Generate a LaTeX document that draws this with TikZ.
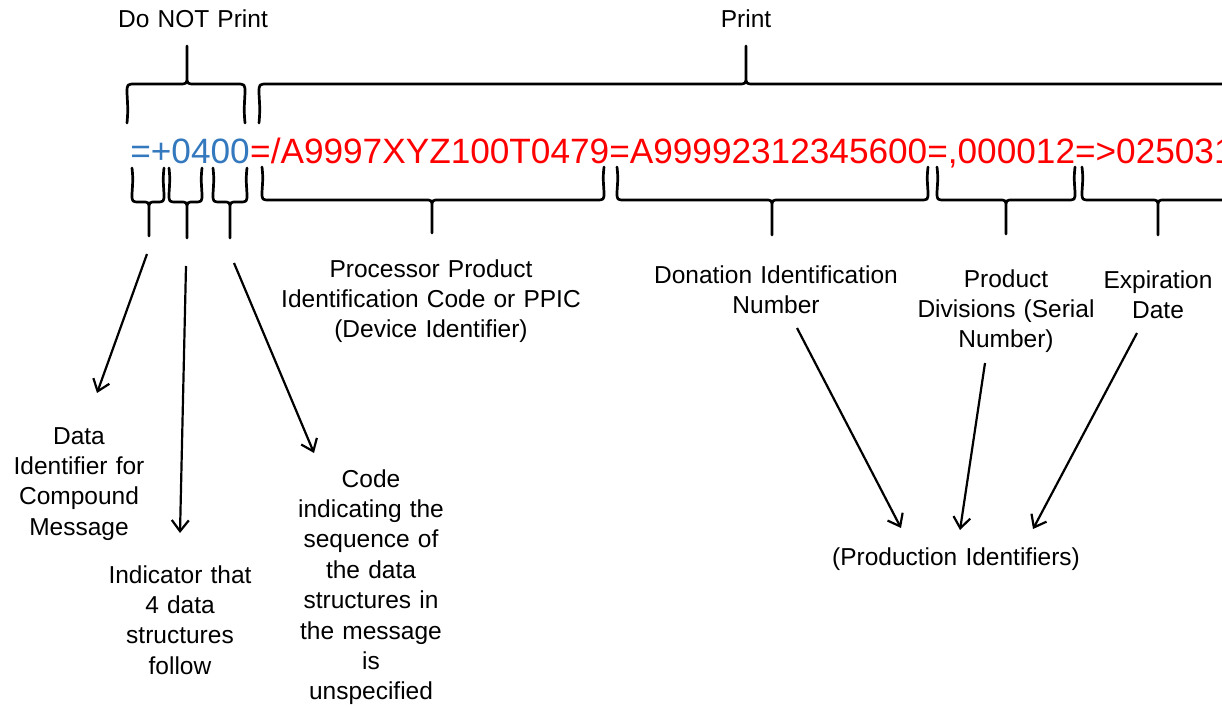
\documentclass[tikz,border=0pt]{standalone}
\usepackage{fontspec}
\setmainfont{Liberation Sans}
\usetikzlibrary{arrows.meta}

\definecolor{codeblue}{RGB}{52,120,190}
\definecolor{codered}{RGB}{255,0,0}

% curly brace opening downwards (tip on top): x1 x2 xtip yend yline ytip
\newcommand\braceabove[6]{%
  \draw[bracepen] ({#1},{#4}) .. controls ({#1+1},{#4-12}) .. ({#1},{#5+9}) .. controls ({#1},{#5}) .. ({#1+9},{#5})
    -- ({#3-8},{#5}) .. controls ({#3},{#5}) .. ({#3},{#5-8}) -- ({#3},{#6})
    ({#3},{#5-8}) .. controls ({#3},{#5}) .. ({#3+8},{#5})
    -- ({#2-9},{#5}) .. controls ({#2},{#5}) .. ({#2},{#5+9}) .. controls ({#2-1},{#4-12}) .. ({#2},{#4});}

% curly brace opening upwards (tip below): x1 x2 xtip ytop yline ytip
\newcommand\bracebelow[6]{%
  \draw[bracepen] ({#1},{#4}) .. controls ({#1+1},{#4+10}) .. ({#1},{#5-8}) .. controls ({#1},{#5}) .. ({#1+8},{#5})
    -- ({#3-7},{#5}) .. controls ({#3},{#5}) .. ({#3},{#5+8}) -- ({#3},{#6})
    ({#3},{#5+8}) .. controls ({#3},{#5}) .. ({#3+7},{#5})
    -- ({#2-8},{#5}) .. controls ({#2},{#5}) .. ({#2},{#5-8}) .. controls ({#2-1},{#4+10}) .. ({#2},{#4});}

\tikzset{
  bracepen/.style={line width=2.7pt, line cap=round, line join=round},
  pointer/.style={line width=2.2pt, -{Straight Barb[length=11pt,width=17pt,line width=2.2pt]}},
  lbl/.style={font=\fontsize{24.5}{30.4}\selectfont, align=center, inner sep=0pt, anchor=base},
  codefont/.style={font=\fontsize{35.2}{40}\selectfont, inner sep=0pt},
}

\begin{document}
\begin{tikzpicture}[x=1pt, y=-1pt]
\useasboundingbox (0,0) rectangle (1222,706);
\clip (0,0) rectangle (1222,706);

% headings above the code
\node[lbl, text width=170pt] (noprint) at (193,28) {Do NOT Print};
\node[lbl, text width=80pt] (print) at (746,28) {Print};

% the encoded string
\node[codefont, text=codeblue, anchor=base east] (prefix) at (250,163) {=+0400};
\node[codefont, text=codered, anchor=base west] (data) at (prefix.base east)
  {=/A9997XYZ100T0479=A99992312345600=,000012=>025031};

% braces above
\braceabove{127}{245}{187}{123}{84}{46}
\braceabove{259}{1250}{746}{123}{84}{46}

% braces below
\bracebelow{132}{164}{149}{168}{202}{236}
\bracebelow{169}{202}{187}{168}{202}{238}
\bracebelow{213}{247}{230}{168}{202}{238}
\bracebelow{262}{604}{432}{167}{200}{233}
\bracebelow{617}{928}{772}{167}{200}{235}
\bracebelow{937}{1075}{1006}{167}{200}{234}
\bracebelow{1082}{1250}{1158}{167}{200}{235}

% field descriptions
\node[lbl, text width=330pt] (ppic) at (431,277)
  {Processor Product\\Identification Code or PPIC\\(Device Identifier)};
\node[lbl, text width=250pt] (din) at (776,283) {Donation Identification\\Number};
\node[lbl, text width=185pt] (div) at (1006,287) {Product\\Divisions (Serial\\Number)};
\node[lbl, text width=118pt] (exp) at (1158,288) {Expiration\\Date};

\node[lbl, text width=150pt] (di) at (79,444) {Data\\Identifier for\\Compound\\Message};
\node[lbl, text width=160pt] (ind) at (180,583) {Indicator that\\4 data\\structures\\follow};
\node[lbl, text width=160pt] (seq) at (371,487)
  {Code\\indicating the\\sequence of\\the data\\structures in\\the message\\is\\unspecified};
\node[lbl, text width=270pt] (pid) at (956,565) {(Production Identifiers)};

% arrow end points
\coordinate (a1s) at (147,254);  \coordinate (a1e) at (97,393);
\coordinate (a2s) at (186,266);  \coordinate (a2e) at (180,533);
\coordinate (a3s) at (234,263);  \coordinate (a3e) at (314,453);
\coordinate (a4s) at (797,328);  \coordinate (a4e) at (901,528);
\coordinate (a5s) at (985,363);  \coordinate (a5e) at (960,530);
\coordinate (a6s) at (1137,333); \coordinate (a6e) at (1033,529);

\draw[pointer] (a1s) -- (a1e);
\draw[pointer] (a2s) -- (a2e);
\draw[pointer] (a3s) -- (a3e);
\draw[pointer] (a4s) -- (a4e);
\draw[pointer] (a5s) -- (a5e);
\draw[pointer] (a6s) -- (a6e);
\end{tikzpicture}
\end{document}
